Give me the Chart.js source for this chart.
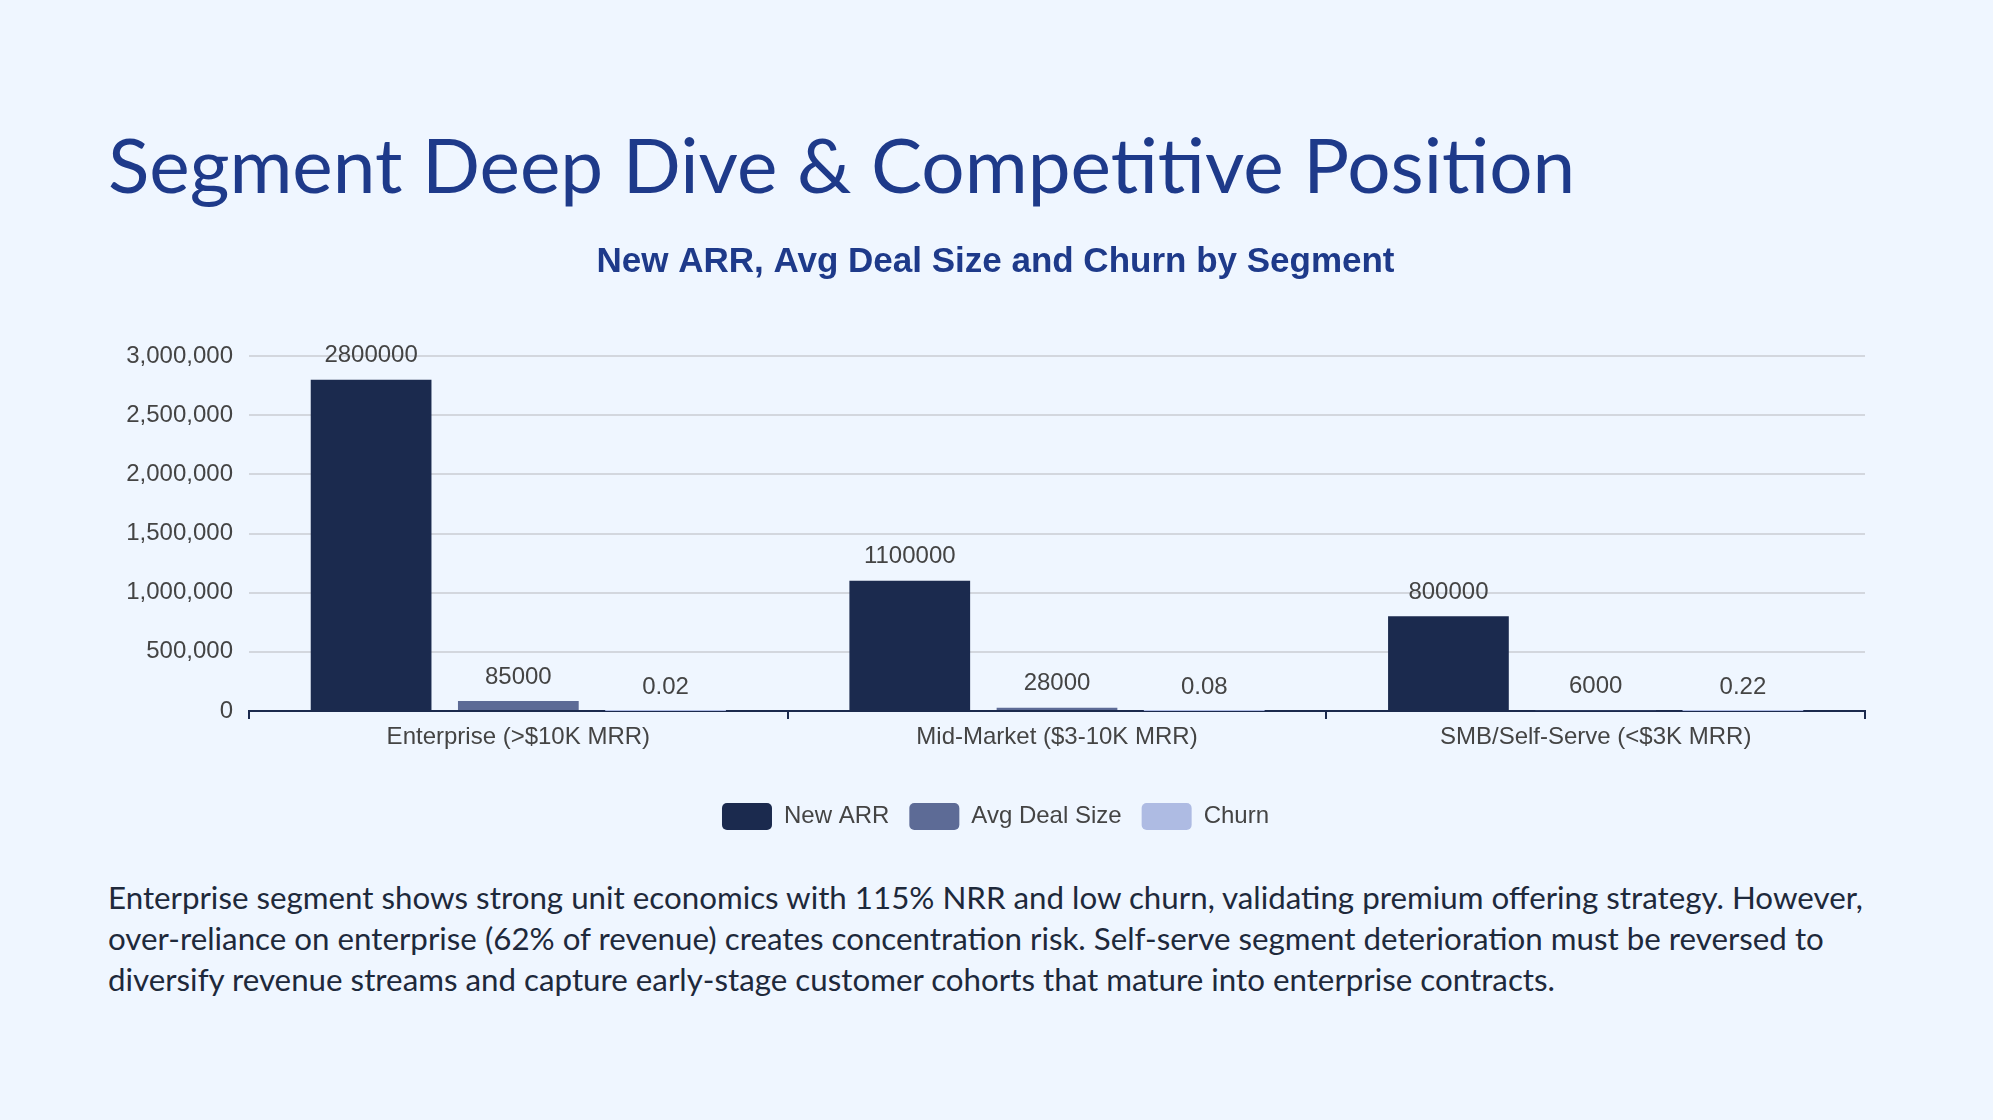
<!DOCTYPE html>
<html>
<head>
<meta charset="utf-8">
<script src="https://cdn.jsdelivr.net/npm/chart.js@4.4.1/dist/chart.umd.min.js"></script>
<style>
  html, body { margin: 0; padding: 0; }
  body { width: 1993px; height: 1120px; background: #eff6ff; position: relative; overflow: hidden; }
  h1 {
    position: absolute; left: 108px; top: 118px; margin: 0;
    font-family: Lato, "Open Sans", sans-serif; font-weight: 400;
    font-size: 76.5px; line-height: 1.2; color: #1e3a8a; white-space: nowrap;
  }
  #wrap { position: absolute; left: 126px; top: 220px; width: 1759px; height: 630px; }
  p {
    position: absolute; left: 108px; top: 877px; margin: 0; width: 1850px;
    font-family: Lato, "Open Sans", sans-serif; font-size: 31.3px; line-height: 41px;
    color: #1e293b; white-space: nowrap;
  }
</style>
</head>
<body>
<h1>Segment Deep Dive &amp; Competitive Position</h1>
<div id="wrap"><canvas id="segChart"></canvas></div>
<p>Enterprise segment shows strong unit economics with 115% NRR and low churn, validating premium offering strategy. However,<br>over-reliance on enterprise (62% of revenue) creates concentration risk. Self-serve segment deterioration must be reversed to<br>diversify revenue streams and capture early-stage customer cohorts that mature into enterprise contracts.</p>
<script>
const segmentos = ['Enterprise (>$10K MRR)', 'Mid-Market ($3-10K MRR)', 'SMB/Self-Serve (<$3K MRR)'];
const newArr = [2800000, 1100000, 800000];
const avgDealSize = [85000, 28000, 6000];
const churn = [0.02, 0.08, 0.22];
const yMax = 3000000;
const yStep = 500000;

const fuente = "'Liberation Sans', Arial, sans-serif";

// etiquetas de valor encima de cada barra
const valueLabels = {
  id: 'valueLabels',
  afterDatasetsDraw(chart) {
    const ctx = chart.ctx;
    ctx.save();
    ctx.font = '24px ' + fuente;
    ctx.fillStyle = '#444';
    ctx.textAlign = 'center';
    ctx.textBaseline = 'middle';
    chart.data.datasets.forEach((ds, i) => {
      chart.getDatasetMeta(i).data.forEach((bar, j) => {
        ctx.fillText(String(ds.data[j]), bar.x, bar.y - 24);
      });
    });
    ctx.restore();
  }
};

const ctx = document.getElementById('segChart').getContext('2d');
new Chart(ctx, {
  type: 'bar',
  data: {
    labels: segmentos,
    datasets: [
      { label: 'New ARR', data: newArr, backgroundColor: '#1b2a4e' },
      { label: 'Avg Deal Size', data: avgDealSize, backgroundColor: '#5d6b96' },
      { label: 'Churn', data: churn, backgroundColor: '#aebbe3' }
    ]
  },
  options: {
    responsive: true,
    maintainAspectRatio: false,
    animation: false,
    categoryPercentage: 0.82,
    barPercentage: 0.82,
    layout: { padding: { bottom: 10, right: 20 } },
    scales: {
      x: {
        afterFit(scale) { scale.height = 72; },
        grid: { drawOnChartArea: false, drawTicks: true, tickLength: 8, color: '#1b2a4e', lineWidth: 2 },
        border: { color: '#1b2a4e', width: 2 },
        ticks: { color: '#444', padding: 4, font: { family: fuente, size: 24 } }
      },
      y: {
        min: 0,
        max: yMax,
        afterFit(scale) { scale.width = 123; },
        grid: { color: '#d3d7de', lineWidth: 2, drawTicks: false },
        border: { display: false },
        ticks: {
          stepSize: yStep,
          padding: 16,
          color: '#444',
          font: { family: fuente, size: 24 },
          callback: v => v.toLocaleString('en-US')
        }
      }
    },
    plugins: {
      title: {
        display: true,
        text: 'New ARR, Avg Deal Size and Churn by Segment',
        color: '#1e3a8a',
        font: { family: fuente, size: 35, weight: 'bold' },
        padding: { top: 21, bottom: 73 }
      },
      legend: {
        position: 'bottom',
        labels: {
          boxWidth: 50,
          boxHeight: 27,
          useBorderRadius: true,
          borderRadius: 5,
          padding: 20,
          color: '#444',
          font: { family: fuente, size: 24 }
        }
      },
      tooltip: { enabled: false }
    }
  },
  plugins: [valueLabels]
});
</script>
</body>
</html>
